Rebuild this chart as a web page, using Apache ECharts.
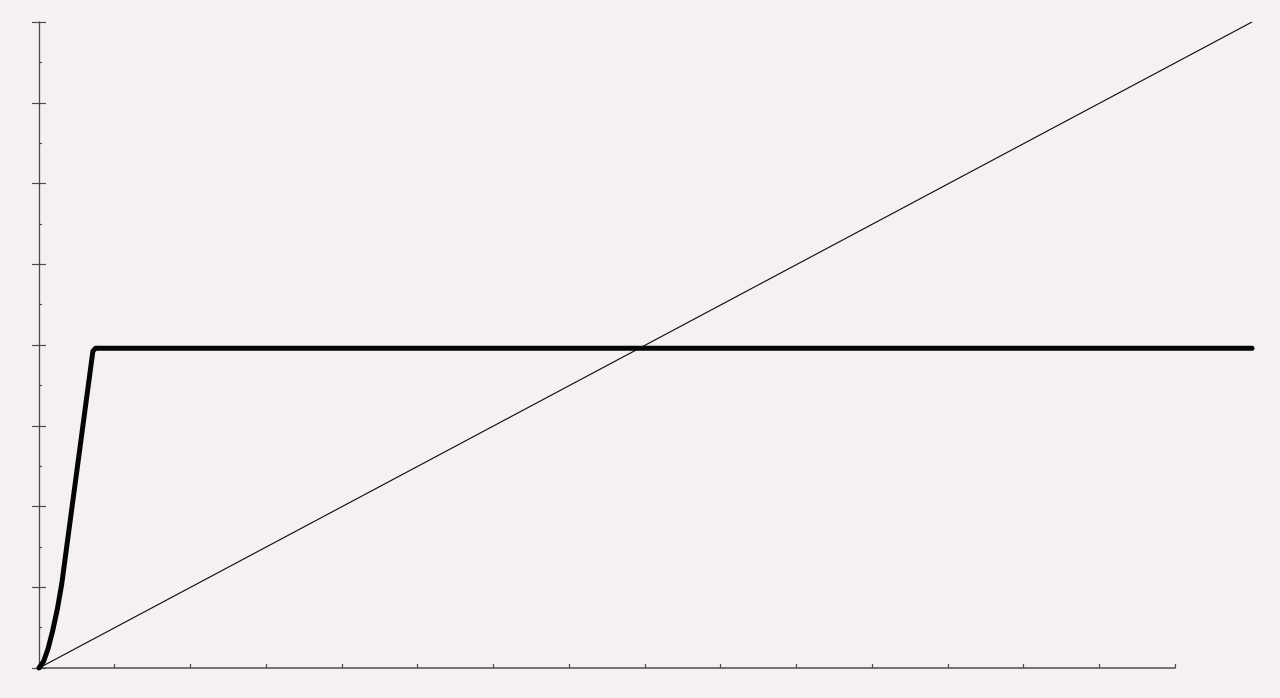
<!DOCTYPE html>
<html>
<head>
<meta charset="utf-8">
<script src="https://cdn.jsdelivr.net/npm/echarts@6/dist/echarts.min.js"></script>
<style>
html,body{margin:0;padding:0;background:#f5f0f4;}
#chart{width:1280px;height:698px;}
</style>
</head>
<body>
<div id="chart"></div>
<script>
// Data (x in axis units, y in axis units)
const thinX = [0, 16];
const thinY = [0, 8];
const thickX = [0, 0.06, 0.12, 0.18, 0.24, 0.30, 0.71, 0.745, 16];
const thickY = [0, 0.08, 0.24, 0.46, 0.72, 1.04, 3.92, 3.96, 3.96];
const xAxisMax = 15;   // drawn x axis extent
const dataXMax = 16;   // data extent
const yMax = 8;

const axisColor = '#4a4a4a';

const chart = echarts.init(document.getElementById('chart'));
chart.setOption({
  backgroundColor: '#f5f0f4',
  animation: false,
  grid: [
    {left: 39, right: 28, top: 22, bottom: 30},
    {left: 39, right: 1280 - 39 - 1136, top: 22, bottom: 30}
  ],
  xAxis: [
    {type: 'value', gridIndex: 0, min: 0, max: dataXMax, show: false},
    {type: 'value', gridIndex: 1, min: 0, max: xAxisMax, interval: 1,
     axisLine: {show: true, onZero: false, lineStyle: {color: axisColor, width: 1.5}},
     axisTick: {show: true, inside: true, length: 4, lineStyle: {color: axisColor, width: 1.2}},
     axisLabel: {show: false}, splitLine: {show: false}}
  ],
  yAxis: [
    {type: 'value', gridIndex: 0, min: 0, max: yMax, interval: 1, position: 'left',
     axisLine: {show: true, lineStyle: {color: axisColor, width: 1.3}},
     axisTick: {show: true, inside: false, length: 7, lineStyle: {color: axisColor, width: 1.2}},
     axisLabel: {show: false}, splitLine: {show: false}},
    {type: 'value', gridIndex: 0, min: 0, max: yMax, interval: 1, position: 'left', offset: 0,
     axisLine: {show: false},
     axisTick: {show: true, inside: true, length: 7, lineStyle: {color: axisColor, width: 1.2}},
     minorTick: {show: true, splitNumber: 2, length: 3, lineStyle: {color: axisColor, width: 1.2}},
     axisLabel: {show: false}, splitLine: {show: false}, minorSplitLine: {show: false}},
    {type: 'value', gridIndex: 1, min: 0, max: yMax, show: false}
  ],
  series: [
    {type: 'line', xAxisIndex: 0, yAxisIndex: 0, symbol: 'none', z: 2,
     data: thinX.map((x, i) => [x, thinY[i]]),
     lineStyle: {color: '#111', width: 1.3}},
    {type: 'line', xAxisIndex: 0, yAxisIndex: 0, symbol: 'none', z: 3,
     data: thickX.map((x, i) => [x, thickY[i]]),
     lineStyle: {color: '#050505', width: 5, cap: 'round', join: 'round'}}
  ]
});
</script>
</body>
</html>
